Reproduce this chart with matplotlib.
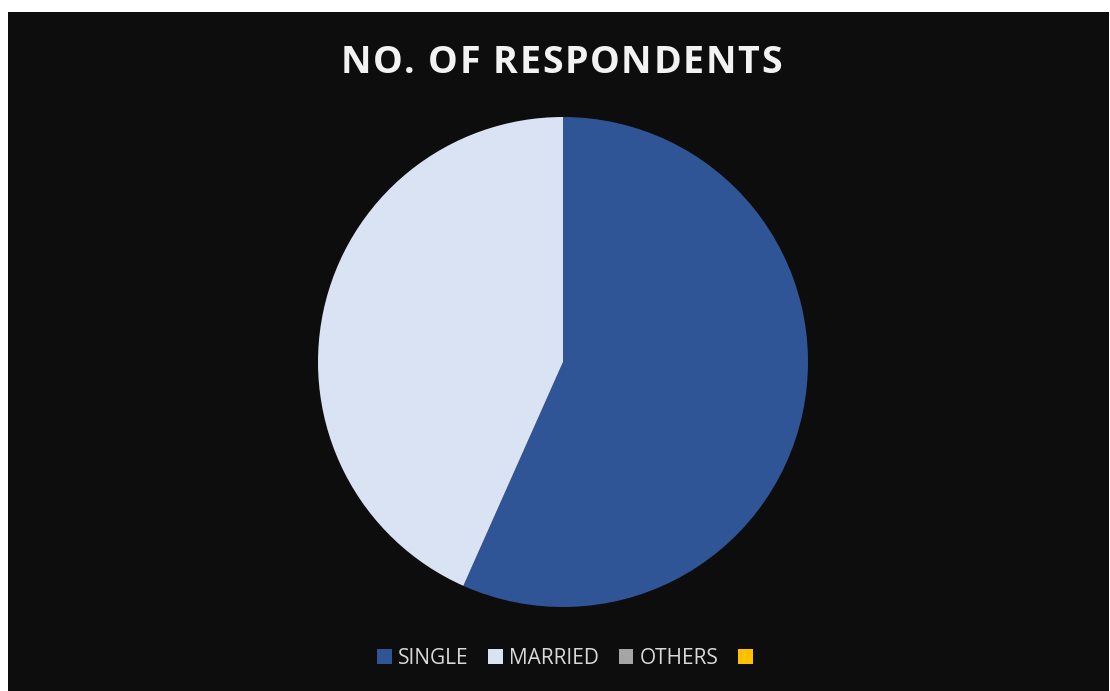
import matplotlib.pyplot as plt
from matplotlib.patches import Rectangle

categories = ["SINGLE", "MARRIED", "OTHERS", ""]
respondents = [17, 13, 0, 0]
colors = ["#2f5597", "#dae3f3", "#a5a5a5", "#ffc000"]
title = "NO. OF RESPONDENTS"

W, H = 1110, 691
fig = plt.figure(figsize=(W / 100, H / 100), dpi=100, facecolor="white")

# dark chart area
fig.patches.append(Rectangle((8 / W, 0), (1109 - 8) / W, (H - 12) / H,
                             transform=fig.transFigure, facecolor="#0d0d0d",
                             edgecolor="none", zorder=-5))

cx, cy, r = 563, H - 362, 245
ax = fig.add_axes([(cx - r) / W, (cy - r) / H, 2 * r / W, 2 * r / H])
wedges, _ = ax.pie(respondents, colors=colors, startangle=90, counterclock=False,
                   radius=1, wedgeprops=dict(linewidth=0))
ax.set_xlim(-1, 1)
ax.set_ylim(-1, 1)
ax.set_aspect("equal")
ax.axis("off")

# title with a little letter spacing, laid out one character at a time
renderer = fig.canvas.get_renderer()
style = dict(fontsize=27, fontweight="bold", color="#f2f2f2", family="Open Sans",
             va="baseline", ha="left")
spacing = 1.7


def text_width(s):
    t = fig.text(0, 0, s, **style)
    w = t.get_window_extent(renderer).width
    t.remove()
    return w


space = text_width("N N") - text_width("NN")
widths = [space if ch == " " else text_width(ch) for ch in title]
total = sum(widths) + spacing * (len(title) - 1)
x = 561 - total / 2
for ch, w in zip(title, widths):
    fig.text(x / W, 1 - 73 / H, ch, **style)
    x += w + spacing

fig.legend(wedges, categories, loc="center", bbox_to_anchor=(568 / W, 1 - 658 / H),
           ncol=4, frameon=False, handlelength=0.7, handleheight=0.7,
           handletextpad=0.3, columnspacing=0.95,
           prop=dict(family="Open Sans", size=15), labelcolor="#d9d9d9")

fig.savefig("out.png", dpi=100, facecolor="white")
